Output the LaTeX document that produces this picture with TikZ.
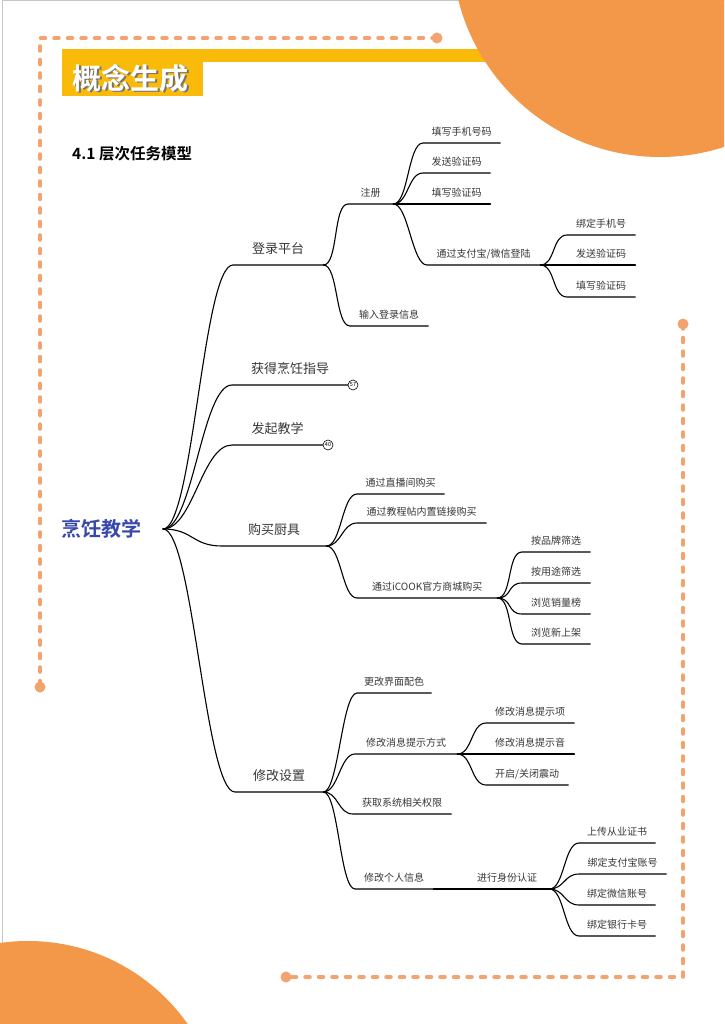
\documentclass[tikz,border=0pt]{standalone}
\usepackage{fontspec}
\setmainfont{Noto Sans CJK SC}[BoldFont={Noto Sans CJK SC Bold}]
\definecolor{circorange}{RGB}{242,152,72}
\definecolor{dashorange}{RGB}{243,163,112}
\definecolor{baryellow}{RGB}{250,186,10}
\definecolor{rootblue}{RGB}{57,73,171}
\definecolor{txtgray}{RGB}{55,55,55}

\begin{document}
\begin{tikzpicture}[line cap=round,line join=round,x=1pt,y=-1pt,
  mainbr/.style={anchor=south west,inner xsep=0pt,inner ysep=10pt,minimum width=#1pt,
    text height=0.85em,text depth=0.1em,text=txtgray,font=\fontsize{13}{15}\selectfont},
  subbr/.style={anchor=south west,inner xsep=0pt,inner ysep=6.5pt,minimum width=#1pt,
    text height=0.85em,text depth=0.1em,text=txtgray,font=\fontsize{10}{12}\selectfont},
  link/.style={line width=1.1pt,to path={.. controls +(#1,0) and +(-#1,0) .. (\tikztotarget)}},
  link/.default=15,
  badge/.style={circle,draw,fill=white,line width=0.6pt,inner sep=0pt,minimum size=10pt,
    font=\fontsize{5.5}{6}\selectfont},
  framedash/.style={draw=dashorange,line width=3.5pt,dash pattern=on 5pt off 8.5pt}]
\useasboundingbox (0,0) rectangle (724,1024);
\clip (0,0) rectangle (724,1024);
\fill[white] (0,0) rectangle (724,1024);
\draw[gray!45,line width=1pt] (2,1024) -- (2,1) -- (724,1);
% header and corner discs
\fill[baryellow] (62,49) rectangle (600,62);
\fill[baryellow] (62,49) rectangle (203,96);
\fill[circorange] (660,-51) circle (208pt);
\fill[circorange] (28,1136) circle (195pt);
% dashed frame
\draw[framedash] (437,38) -- (40,38) -- (40,687);
\draw[framedash] (683,324) -- (683,977) -- (286,977);
\fill[dashorange] (437,38) circle (5.5pt) (40,687) circle (5.5pt)
  (683,324) circle (5.5pt) (286,977) circle (5.5pt);
% titles
\node[anchor=west,inner sep=0pt,text=black!55,font=\bfseries\fontsize{29}{30}\selectfont] (ttlsh) at (74,79.5) {概念生成};
\node[anchor=west,inner sep=0pt,text=white,font=\bfseries\fontsize{29}{30}\selectfont] (ttl) at (72.5,78) {概念生成};
\node[anchor=west,inner sep=0pt,font=\bfseries\fontsize{15.5}{18}\selectfont] (hd) at (72,154) {4.1 层次任务模型};
% root
\node[inner sep=0pt,text=rootblue,font=\bfseries\fontsize{20}{24}\selectfont] (root) at (101,529) {烹饪教学};
\coordinate (hub) at (163,529);
% first level
\node[mainbr=90] (dl) at (233,265) {登录平台};
\node[mainbr=116] (hq) at (232,385) {获得烹饪指导};
\node[mainbr=91] (fq) at (232,445) {发起教学};
\node[mainbr=104] (gm) at (222,546) {购买厨具};
\node[mainbr=88] (xg) at (235,792) {修改设置};
% login
\node[subbr=45] (zc) at (348,204) {注册};
\node[subbr=78] (sr) at (350,326) {输入登录信息};
\node[subbr=77] (sj) at (423,143) {填写手机号码};
\node[subbr=67] (fs1) at (423,173) {发送验证码};
\node[subbr=67] (tx1) at (423,204) {填写验证码};
\node[subbr=113] (zf) at (427,265) {通过支付宝/微信登陆};
\node[subbr=68] (bd) at (567,235) {绑定手机号};
\node[subbr=68] (fs2) at (567,265) {发送验证码};
\node[subbr=68] (tx2) at (567,297) {填写验证码};
% buying
\node[subbr=87] (zb) at (357,494) {通过直播间购买};
\node[subbr=129] (jc) at (357,523) {通过教程帖内置链接购买};
\node[subbr=140] (ic) at (357,598) {通过iCOOK官方商城购买};
\node[subbr=68] (pp) at (522,552) {按品牌筛选};
\node[subbr=68] (yt) at (522,583) {按用途筛选};
\node[subbr=68] (xl) at (522,614) {浏览销量榜};
\node[subbr=68] (xs) at (522,644) {浏览新上架};
% settings
\node[subbr=74] (pz) at (357,693) {更改界面配色};
\node[subbr=102] (fsh) at (355,754) {修改消息提示方式};
\node[subbr=98] (qx) at (353,814) {获取系统相关权限};
\node[subbr=78] (gr) at (355,889) {修改个人信息};
\node[subbr=84] (rz) at (465,889) {进行身份认证};
\node[subbr=88] (tsx) at (486,723) {修改消息提示项};
\node[subbr=88] (tsy) at (486,754) {修改消息提示音};
\node[subbr=82] (zd) at (486,785) {开启/关闭震动};
\node[subbr=76] (zs) at (579,843) {上传从业证书};
\node[subbr=87] (zfb) at (579,874) {绑定支付宝账号};
\node[subbr=76] (wx) at (579,905) {绑定微信账号};
\node[subbr=76] (yh) at (579,936) {绑定银行卡号};
% connectors
\foreach \c in {dl,fq,gm,xg}
  \draw[link=30] (hub) to (\c.south west) -- (\c.south east);
\draw[link=30] (hub) to (hq.south west) -- (hq.south east);
\foreach \c in {zc,sr}
  \draw[link] (dl.south east) to (\c.south west) -- (\c.south east);
\foreach \c in {sj,fs1,tx1,zf}
  \draw[link] (zc.south east) to (\c.south west) -- (\c.south east);
\foreach \c in {bd,fs2,tx2}
  \draw[link] (zf.south east) to (\c.south west) -- (\c.south east);
\foreach \c in {zb,jc,ic}
  \draw[link] (gm.south east) to (\c.south west) -- (\c.south east);
\foreach \c in {pp,yt,xl,xs}
  \draw[link] (ic.south east) to (\c.south west) -- (\c.south east);
\foreach \c in {pz,fsh,qx,gr}
  \draw[link] (xg.south east) to (\c.south west) -- (\c.south east);
\foreach \c in {tsx,tsy,zd}
  \draw[link] (fsh.south east) to (\c.south west) -- (\c.south east);
\draw[link] (gr.south east) to (rz.south west) -- (rz.south east);
\foreach \c in {zs,zfb,wx,yh}
  \draw[link] (rz.south east) to (\c.south west) -- (\c.south east);
% badges
\node[badge] (b57) at (353,385) {57};
\node[badge] (b40) at (328,445) {40};
\end{tikzpicture}
\end{document}
